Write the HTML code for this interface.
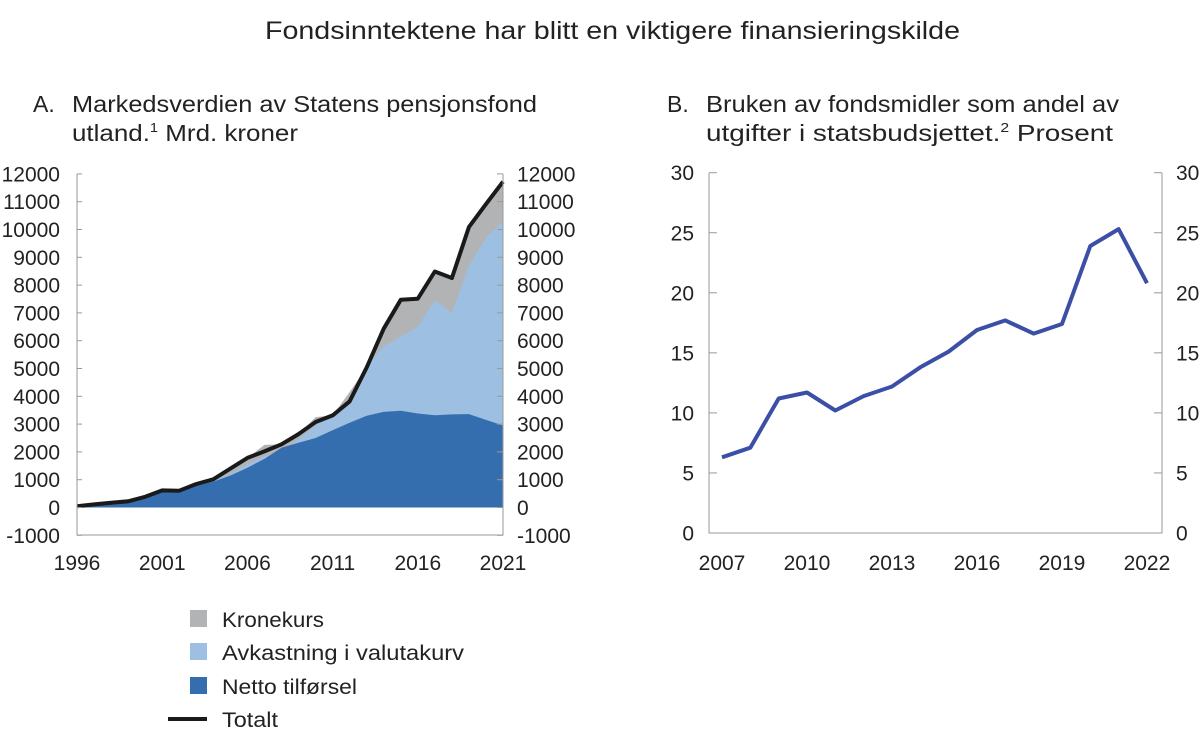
<!DOCTYPE html>
<html><head><meta charset="utf-8"><style>
body{margin:0;background:#fff}
text{font-family:"Liberation Sans",sans-serif;fill:#222}
</style></head><body>
<svg width="1200" height="748" viewBox="0 0 1200 748" xmlns="http://www.w3.org/2000/svg">
<text x="265" y="39" font-size="25" textLength="695" lengthAdjust="spacingAndGlyphs">Fondsinntektene har blitt en viktigere finansieringskilde</text>
<text x="33" y="112" font-size="23">A.</text>
<text x="72" y="112" font-size="23" textLength="465" lengthAdjust="spacingAndGlyphs">Markedsverdien av Statens pensjonsfond</text>
<text x="72" y="141" font-size="23" textLength="226" lengthAdjust="spacingAndGlyphs">utland.<tspan font-size="13" dy="-9">1</tspan><tspan dy="9"> Mrd. kroner</tspan></text>
<text x="667" y="112" font-size="23">B.</text>
<text x="706" y="112" font-size="23" textLength="413" lengthAdjust="spacingAndGlyphs">Bruken av fondsmidler som andel av</text>
<text x="706" y="141" font-size="23" textLength="407" lengthAdjust="spacingAndGlyphs">utgifter i statsbudsjettet.<tspan font-size="13" dy="-9">2</tspan><tspan dy="9"> Prosent</tspan></text>

<g id="A">
<path id="gray" fill="#b2b3b5" d=""/>
<path id="light" fill="#9dbfe2" d=""/>
<path id="dark" fill="#356eaf" d=""/>
<polyline id="tot" fill="none" stroke="#1a1a1a" stroke-width="4" stroke-linejoin="round" points=""/>
<g stroke="#999" stroke-width="1" fill="none">
<polyline points="77,174 77,535 503,535 503,174"/>
</g>
<g id="aticks" stroke="#999" stroke-width="1"></g>
<g id="alab" font-size="21"></g>
</g>

<g id="B">
<g stroke="#999" stroke-width="1" fill="none">
<polyline points="709,173 709,533 1162,533 1162,173"/>
</g>
<g id="bticks" stroke="#999" stroke-width="1"></g>
<g id="blab" font-size="21"></g>
<polyline id="bl" fill="none" stroke="#3c4fa6" stroke-width="4" stroke-linejoin="round" points=""/>
</g>

<rect x="190" y="610" width="17" height="17" fill="#b2b3b5"/>
<rect x="190" y="643" width="17" height="17" fill="#9dbfe2"/>
<rect x="190" y="677" width="17" height="17" fill="#356eaf"/>
<line x1="168" y1="719" x2="207" y2="719" stroke="#1a1a1a" stroke-width="4"/>
<text x="222" y="627" font-size="21" textLength="102" lengthAdjust="spacingAndGlyphs">Kronekurs</text>
<text x="222" y="660" font-size="21" textLength="242" lengthAdjust="spacingAndGlyphs">Avkastning i valutakurv</text>
<text x="222" y="694" font-size="21" textLength="135" lengthAdjust="spacingAndGlyphs">Netto tilførsel</text>
<text x="222" y="727" font-size="21" textLength="56" lengthAdjust="spacingAndGlyphs">Totalt</text>
</svg>
<script>
var NS="http://www.w3.org/2000/svg";
function el(p,t,a,txt){var e=document.createElementNS(NS,t);for(var k in a)e.setAttribute(k,a[k]);if(txt!==undefined)e.textContent=txt;document.getElementById(p).appendChild(e);return e;}
var tot=[48,113,172,222,386,614,604,845,1016,1399,1784,2019,2275,2640,3077,3312,3816,5038,6431,7475,7510,8488,8256,10088,10914,11720];
var net=[48,100,150,190,340,590,600,800,930,1150,1430,1750,2150,2330,2500,2780,3050,3300,3440,3480,3380,3320,3350,3360,3150,2950];
var lig=[48,113,172,222,386,614,604,845,960,1200,1550,1850,2000,2450,2950,3300,3950,5100,5800,6150,6500,7450,7000,8700,9700,10300];
var gry=tot.slice();gry[11]=2250;gry[14]=3250;gry[16]=4150;
function ax(i){return 77+i*17.04}function ay(v){return 507.5-v*0.0278}
function area(id,arr){var d="M77,"+ay(0);arr.forEach(function(v,i){d+=" L"+ax(i).toFixed(1)+","+ay(v).toFixed(1)});d+=" L"+ax(25)+","+ay(0)+" Z";document.getElementById(id).setAttribute("d",d);}
area("gray",gry);area("light",lig);area("dark",net);
document.getElementById("tot").setAttribute("points",tot.map(function(v,i){return ax(i).toFixed(1)+","+ay(v).toFixed(1)}).join(" "));
for(var v=-1000;v<=12000;v+=1000){var y=ay(v);el("aticks","line",{x1:77,x2:82,y1:y,y2:y});el("aticks","line",{x1:497,x2:503,y1:y,y2:y});
el("alab","text",{x:60,y:y+7.5,"text-anchor":"end"},v);el("alab","text",{x:517,y:y+7.5},v);}
[1996,2001,2006,2011,2016,2021].forEach(function(yr){el("alab","text",{x:ax(yr-1996),y:570,"text-anchor":"middle"},yr)});
var bv=[6.3,7.1,11.2,11.7,10.2,11.4,12.2,13.8,15.1,16.9,17.7,16.6,17.4,23.9,25.3,20.8];
function bx(i){return 722+i*28.33}function by(v){return 533-v*12.01}
document.getElementById("bl").setAttribute("points",bv.map(function(v,i){return bx(i).toFixed(1)+","+by(v).toFixed(1)}).join(" "));
for(var v=0;v<=30;v+=5){var y=by(v);el("bticks","line",{x1:709,x2:717,y1:y,y2:y});el("bticks","line",{x1:1154,x2:1162,y1:y,y2:y});
el("blab","text",{x:694,y:y+7.5,"text-anchor":"end"},v);el("blab","text",{x:1176,y:y+7.5},v);}
[2007,2010,2013,2016,2019,2022].forEach(function(yr){el("blab","text",{x:bx(yr-2007),y:570,"text-anchor":"middle"},yr)});
</script>
</body></html>
